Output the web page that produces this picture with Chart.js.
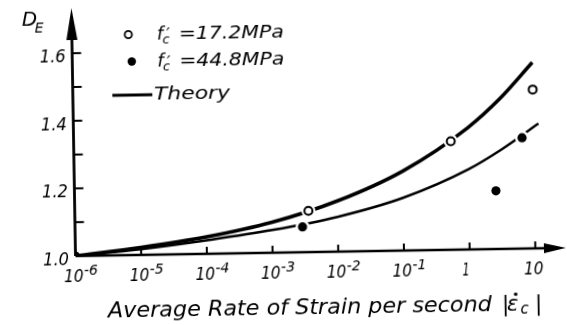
<!DOCTYPE html>
<html>
<head>
<meta charset="utf-8">
<script src="https://cdn.jsdelivr.net/npm/chart.js@4.4.1/dist/chart.umd.min.js"></script>
<style>
  html, body { margin: 0; padding: 0; background: #fff; overflow: hidden; }
  /* the scanned figure sits slightly tilted */
  #wrap { position: relative; width: 567px; height: 325px; transform: rotate(-0.95deg); transform-origin: 75.5px 256px; }
</style>
</head>
<body>
<div id="wrap"><canvas id="chart" width="567" height="325"></canvas></div>
<script>
// strain rate (1/s) against dynamic increase factor D_E
const theoryRate172 = [1e-6, 1e-5, 1e-4, 1e-3, 1e-2, 1e-1, 1, 3.16, 10];
const theory172 = [1.0, 1.022, 1.05, 1.09, 1.15, 1.235, 1.36, 1.445, 1.55];
const theoryRate448 = [1e-6, 1e-5, 1e-4, 1e-3, 1e-2, 1e-1, 1, 3.16, 12];
const theory448 = [1.0, 1.017, 1.04, 1.067, 1.103, 1.156, 1.237, 1.293, 1.369];
const testRate172 = [3.6e-3, 0.55, 10];
const test172 = [1.122, 1.321, 1.47];
const testRate448 = [2.9e-3, 2.6, 6.7];
const test448 = [1.075, 1.172, 1.328];

const xTickValues = [1e-6, 1e-5, 1e-4, 1e-3, 1e-2, 1e-1, 1, 10];
const xTickBase = ["10", "10", "10", "10", "10", "10", "1", "10"];
const xTickExp = ["-6", "-5", "-4", "-3", "-2", "-1", "", ""];
const yTickValues = [1.0, 1.2, 1.4, 1.6];
const yTickLabels = ["1.0", "1.2", "1.4", "1.6"];
const yMinorTicks = [1.1, 1.3, 1.5];

const FONT = '"DejaVu Sans"';

function pts(xs, ys) {
    return xs.map((v, i) => ({ x: v, y: ys[i] }));
}

function fitText(ctx, text, x, y, width, align) {
    const w = ctx.measureText(text).width;
    ctx.save();
    ctx.translate(x, y);
    ctx.scale(width / w, 1);
    ctx.textAlign = align || "left";
    ctx.fillText(text, 0, 0);
    ctx.restore();
}

const axesPlugin = {
    id: "axesPlugin",
    beforeDatasetsDraw(chart) {
        const { ctx, chartArea: a, scales: { x, y } } = chart;
        ctx.save();
        ctx.strokeStyle = "#000";
        ctx.fillStyle = "#000";
        // x axis with arrow
        ctx.lineWidth = 2.5;
        ctx.beginPath();
        ctx.moveTo(a.left, a.bottom);
        ctx.lineTo(a.right - 15, a.bottom);
        ctx.stroke();
        ctx.beginPath();
        ctx.moveTo(a.right, a.bottom);
        ctx.lineTo(a.right - 22, a.bottom - 5);
        ctx.lineTo(a.right - 22, a.bottom + 5);
        ctx.closePath();
        ctx.fill();
        // y axis with arrow
        ctx.lineWidth = 2.8;
        ctx.beginPath();
        ctx.moveTo(a.left, a.bottom);
        ctx.lineTo(a.left, a.top + 20);
        ctx.stroke();
        ctx.beginPath();
        ctx.moveTo(a.left, a.top);
        ctx.lineTo(a.left - 5.5, a.top + 32);
        ctx.lineTo(a.left + 5.5, a.top + 32);
        ctx.closePath();
        ctx.fill();
        // ticks
        ctx.lineWidth = 2;
        xTickValues.slice(1).forEach((v) => {
            const px = x.getPixelForValue(v);
            ctx.beginPath();
            ctx.moveTo(px, a.bottom);
            ctx.lineTo(px, a.bottom - 7);
            ctx.stroke();
        });
        yTickValues.slice(1).concat(yMinorTicks).forEach((v) => {
            const py = y.getPixelForValue(v);
            ctx.beginPath();
            ctx.moveTo(a.left, py);
            ctx.lineTo(a.left + 9, py);
            ctx.stroke();
        });
        ctx.restore();
    },
    afterDraw(chart) {
        const { ctx, chartArea: a, scales: { x, y } } = chart;
        ctx.save();
        ctx.fillStyle = "#000";
        ctx.strokeStyle = "#000";
        ctx.textBaseline = "alphabetic";
        // y tick labels
        ctx.font = `italic 18px ${FONT}`;
        yTickValues.forEach((v, i) => {
            fitText(ctx, yTickLabels[i], a.left - 6.5, y.getPixelForValue(v) + 9, 26, "right");
        });
        // x tick labels
        xTickValues.forEach((v, i) => {
            const px = x.getPixelForValue(v);
            ctx.font = `italic 17px ${FONT}`;
            const base = xTickBase[i];
            const bw = base.length > 1 ? 19.5 : 7;
            const cx = base.length > 1 ? px - 2 : px - 4;
            fitText(ctx, base, cx - bw / 2, a.bottom + 26, bw);
            if (xTickExp[i]) {
                ctx.font = `italic 14px ${FONT}`;
                ctx.fillText(xTickExp[i], cx + bw / 2 + 0.5, a.bottom + 18.5);
            }
        });
        // axis titles
        ctx.font = `italic 20px ${FONT}`;
        ctx.fillText("D", 25.8, 24.5);
        ctx.font = `italic 14px ${FONT}`;
        ctx.fillText("E", 38.5, 32);

        ctx.font = `italic 22px ${FONT}`;
        fitText(ctx, "Average Rate of Strain per second", 107, 317.5, 384);
        ctx.fillText("|", 501, 317.5);
        fitText(ctx, "\u03b5", 506, 317.5, 11.5);
        ctx.beginPath();
        ctx.arc(515, 301.5, 1.8, 0, Math.PI * 2);
        ctx.fill();
        ctx.font = `italic 15px ${FONT}`;
        ctx.fillText("c", 519.5, 320.5);
        ctx.font = `italic 22px ${FONT}`;
        ctx.fillText("|", 534, 317.5);

        // legend
        ctx.lineWidth = 1.8;
        ctx.fillStyle = "#fff";
        ctx.beginPath();
        ctx.arc(132, 35.5, 3.6, 0, Math.PI * 2);
        ctx.fill();
        ctx.stroke();
        ctx.fillStyle = "#000";
        ctx.beginPath();
        ctx.arc(135, 62.5, 4.2, 0, Math.PI * 2);
        ctx.fill();
        ctx.lineWidth = 3;
        ctx.beginPath();
        ctx.moveTo(115, 96);
        ctx.lineTo(155, 96);
        ctx.stroke();

        [["=17.2MPa", 40.5], ["=44.8MPa", 68]].forEach(([txt, by]) => {
            ctx.font = `italic 18px ${FONT}`;
            ctx.fillText("f", 160.5, by);
            ctx.font = `italic 16px ${FONT}`;
            ctx.fillText("\u2032", 170, by + 0.5);
            ctx.font = `italic 13px ${FONT}`;
            ctx.fillText("c", 166, by + 4);
            ctx.font = `italic 18px ${FONT}`;
            fitText(ctx, txt, 182.5, by, 105);
        });
        ctx.font = `italic 18px ${FONT}`;
        fitText(ctx, "Theory", 156.7, 101, 76);
        ctx.restore();
    }
};

new Chart(document.getElementById("chart"), {
    type: "scatter",
    plugins: [axesPlugin],
    data: {
        datasets: [
            { label: "f'c = 17.2 MPa", data: pts(testRate172, test172), pointRadius: 4, pointBackgroundColor: "#fff", pointBorderColor: "#000", pointBorderWidth: 2, order: 0 },
            { label: "f'c = 44.8 MPa", data: pts(testRate448, test448), pointRadius: 4.6, pointBackgroundColor: "#000", pointBorderColor: "#000", pointBorderWidth: 0, order: 0 },
            { label: "gap", data: pts(testRate172, test172).concat(pts(testRate448, test448)), pointRadius: 7, pointBackgroundColor: "#fff", pointBorderWidth: 0, order: 1 },
            { label: "Theory 17.2", data: pts(theoryRate172, theory172), showLine: true, borderColor: "#000", borderWidth: 3.6, cubicInterpolationMode: "monotone", pointRadius: theory172.map((v, i) => i === 0 ? 4.5 : 0), pointBackgroundColor: "#000", pointBorderWidth: 0, order: 2 },
            { label: "Theory 44.8", data: pts(theoryRate448, theory448), showLine: true, borderColor: "#000", borderWidth: 2.5, cubicInterpolationMode: "monotone", pointRadius: 0, order: 2 }
        ]
    },
    options: {
        responsive: false,
        animation: false,
        events: [],
        layout: { autoPadding: false, padding: { left: 75.5, right: 1, top: 8, bottom: 69 } },
        plugins: { legend: { display: false }, tooltip: { enabled: false } },
        scales: {
            x: { type: "logarithmic", min: 1e-6, max: Math.pow(10, 1.466), display: false },
            y: { type: "linear", min: 1.0, max: 1.7337, display: false }
        }
    }
});
</script>
</body>
</html>
